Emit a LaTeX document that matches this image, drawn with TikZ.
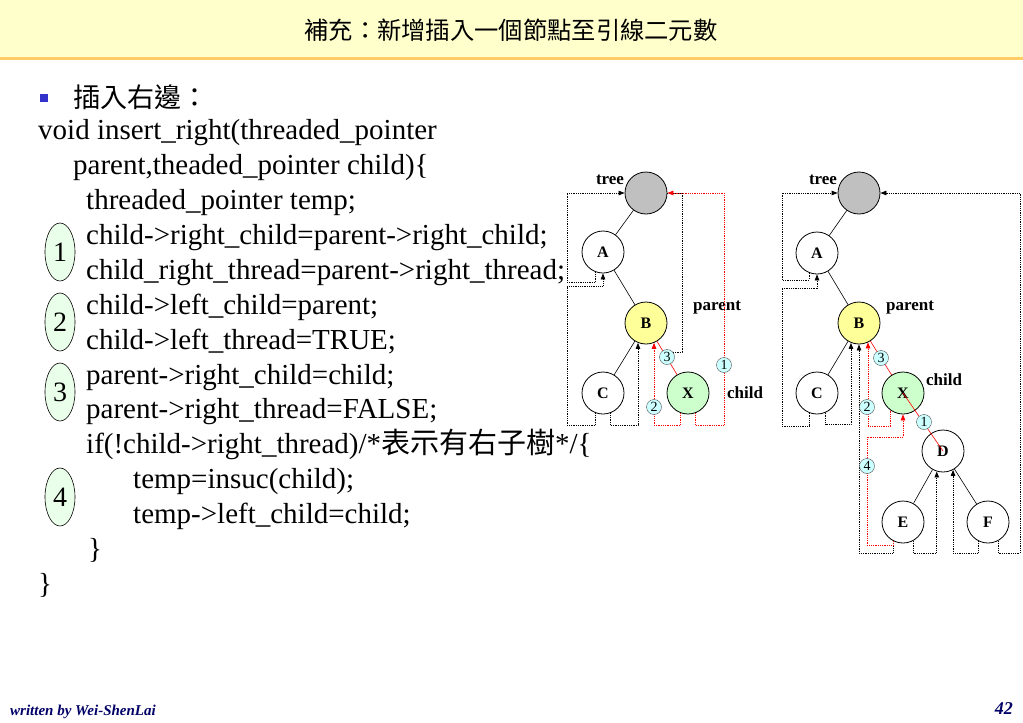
\documentclass[tikz,border=0pt]{standalone}
\usepackage{fontspec}
\setmainfont{Liberation Serif}
\newfontfamily\cjk{Noto Sans CJK TC}
\usetikzlibrary{arrows.meta,shapes.geometric}
\definecolor{titlebg}{RGB}{255,255,204}
\definecolor{titleline}{RGB}{255,204,102}
\definecolor{bulletblue}{RGB}{51,51,204}
\definecolor{stepgreen}{RGB}{234,255,234}
\definecolor{rootgray}{RGB}{192,192,192}
\definecolor{parentyellow}{RGB}{255,255,153}
\definecolor{childgreen}{RGB}{204,255,204}
\definecolor{badgecyan}{RGB}{204,255,255}
\definecolor{footblue}{RGB}{0,0,102}
\tikzset{
  tnode/.style={circle, draw, line width=0.8pt, fill=white, minimum size=42pt, inner sep=0pt,
                font=\fontsize{16}{16}\selectfont\bfseries},
  lbl/.style={inner sep=0pt, font=\fontsize{17}{17}\selectfont\bfseries},
  tedge/.style={line width=0.6pt},
  thread/.style={densely dotted, line width=0.8pt},
  newthread/.style={thread, red},
  arr/.style={-{Triangle[length=6pt,width=4.5pt]}},
  badge/.style={circle, draw=black!70, fill=badgecyan, minimum size=15pt, inner sep=0pt,
                font=\fontsize{14}{14}\selectfont},
  stepmark/.style={ellipse, draw, line width=0.6pt, fill=stepgreen, minimum width=30pt,
                   minimum height=58pt, inner sep=0pt, font=\fontsize{28}{28}\selectfont},
  codeline/.style={anchor=base west, inner sep=0pt, font=\fontsize{29}{35}\selectfont}
}
\begin{document}
\begin{tikzpicture}[x=1pt,y=-1pt]
\useasboundingbox (0,0) rectangle (1023,723);
% title bar
\fill[titlebg]   (0,0)  rectangle (1023,57);
\fill[titleline] (0,57) rectangle (1023,60);
\node[font=\cjk\fontsize{24.3}{24.3}\selectfont] (title) at (511,30) {補充：新增插入一個節點至引線二元數};

% code
\fill[bulletblue] (40,94) rectangle (48,102);
\node[anchor=base west, inner sep=0pt, font=\cjk\fontsize{27}{27}\selectfont] (head) at (73,107) {插入右邊：};
\node[codeline] (c1)  at (38,139)  {void insert\_right(threaded\_pointer};
\node[codeline] (c2)  at (73,174)  {parent,theaded\_pointer child)\{};
\node[codeline] (c3)  at (86,209)  {threaded\_pointer temp;};
\node[codeline] (c4)  at (86,244)  {child->right\_child=parent->right\_child;};
\node[codeline] (c5)  at (86,279)  {child\_right\_thread=parent->right\_thread;};
\node[codeline] (c6)  at (86,314)  {child->left\_child=parent;};
\node[codeline] (c7)  at (86,349)  {child->left\_thread=TRUE;};
\node[codeline] (c8)  at (86,384)  {parent->right\_child=child;};
\node[codeline] (c9)  at (86,418)  {parent->right\_thread=FALSE;};
\node[codeline] (c10) at (86,453)  {if(!child->right\_thread)/*{\cjk\fontsize{29}{29}\selectfont 表示有右子樹}*/\{};
\node[codeline] (c11) at (133,488) {temp=insuc(child);};
\node[codeline] (c12) at (133,523) {temp->left\_child=child;};
\node[codeline] (c13) at (88,558)  {\}};
\node[codeline] (c14) at (38,593)  {\}};
\node[stepmark] (s1) at (60,252) {1};
\node[stepmark] (s2) at (60,322) {2};
\node[stepmark] (s3) at (60,392) {3};
\node[stepmark] (s4) at (60,497) {4};

% left tree (before)
\node[tnode, fill=rootgray]     (Lroot) at (646,193) {};
\node[tnode]                    (LA)    at (603,252) {A};
\node[tnode, fill=parentyellow] (LB)    at (646,323) {B};
\node[tnode]                    (LC)    at (603,393) {C};
\node[tnode, fill=childgreen]   (LX)    at (688,393) {X};
\node[lbl] (Ltree)   at (610,180) {tree};
\node[lbl] (Lparent) at (717,308) {parent};
\node[lbl] (Lchild)  at (745,393) {child};
\coordinate (Lold) at (673,352);
\coordinate (Lfar) at (724,193);
\draw[tedge] (Lroot) -- (LA);
\draw[tedge] (LA) -- (LB);
\draw[tedge] (LB) -- (LC);
\draw[tedge, red] (LB) -- (LX);
\draw[thread, arr] (LA.-110) |- (567,282) |- (Lroot.west);
\draw[thread, arr] (LC.-110) |- (567,425) |- (603,286) -- (LA.south);
\draw[thread, arr] (LC.-70) -- ++(0,12) -| (LB.-112);
\draw[thread] (Lold) -| (682,193) -- (Lroot.east);
\draw[newthread, arr] (LX.-70) -- ++(0,12) -| (Lfar) -- (Lroot.east);
\draw[newthread, arr] (LX.-110) -- ++(0,12) -| (LB.-68);
\node[badge] (Lb1) at (724,365) {1};
\node[badge] (Lb2) at (654,407) {2};
\node[badge] (Lb3) at (667,357) {3};

% right tree (after)
\node[tnode, fill=rootgray]     (Rroot) at (859,193) {};
\node[tnode]                    (RA)    at (817,253) {A};
\node[tnode, fill=parentyellow] (RB)    at (859,323) {B};
\node[tnode]                    (RC)    at (817,393) {C};
\node[tnode, fill=childgreen]   (RX)    at (903,393) {X};
\node[tnode]                    (RD)    at (943,451) {D};
\node[tnode]                    (RE)    at (903,522) {E};
\node[tnode]                    (RF)    at (988,522) {F};
\node[lbl] (Rtree)   at (823,180) {tree};
\node[lbl] (Rparent) at (910,308) {parent};
\node[lbl] (Rchild)  at (944,380) {child};
\coordinate (Rfar) at (1020,193);
\draw[tedge] (Rroot) -- (RA);
\draw[tedge] (RA) -- (RB);
\draw[tedge] (RB) -- (RC);
\draw[tedge] (RD) -- (RE);
\draw[tedge] (RD) -- (RF);
\draw[tedge, red] (RB) -- (RX);
\draw[tedge, red] (RX.center) -- (RD.center);
\draw[thread, arr] (RA.-112) |- (782,280) |- (Rroot.west);
\draw[thread, arr] (RC.-112) |- (782,426) |- (817,288) -- (RA.south);
\draw[thread, arr] (RC.-68) -- ++(0,12) -| (RB.-112);
\draw[thread, arr] (RE.-118) -- ++(0,12) -| (RB.south);
\draw[thread, arr] (RE.-62) -- ++(0,12) -| (RD.-107);
\draw[thread, arr] (RF.-118) -- ++(0,12) -| (RD.-62);
\draw[thread, arr] (RF.-62) -- ++(0,12) -| (Rfar) -- (Rroot.east);
\draw[newthread, arr] (RX.-125) -- ++(0,16) -| (RB.-65);
\draw[newthread, arr] (RE.-118) -- ++(0,4) -| (867,437) -| (RX.south);
\node[badge] (Rb1) at (924,422) {1};
\node[badge] (Rb2) at (867,407) {2};
\node[badge] (Rb3) at (881,358) {3};
\node[badge] (Rb4) at (867,466) {4};

% footer
\node[anchor=base west, inner sep=0pt, text=footblue, font=\fontsize{15}{15}\selectfont\bfseries\itshape] (foot) at (10,715) {written by Wei-ShenLai};
\node[anchor=base east, inner sep=0pt, text=footblue, font=\fontsize{18}{18}\selectfont\bfseries\itshape] (page) at (1013,714) {42};
\end{tikzpicture}
\end{document}
